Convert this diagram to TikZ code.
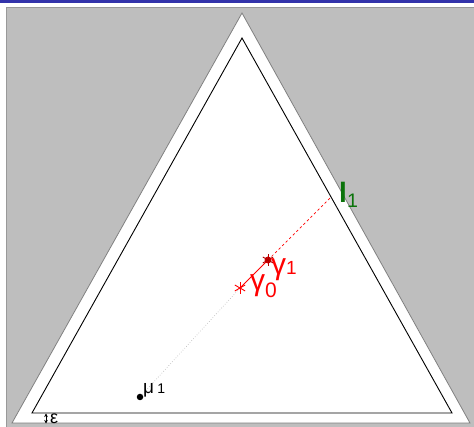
\documentclass[tikz,border=0pt]{standalone}
\usepackage{fontspec}
\setmainfont{Liberation Sans}
\usetikzlibrary{arrows.meta, calc}
\definecolor{barblue}{RGB}{51,51,170}
\definecolor{bggray}{RGB}{190,190,190}
\definecolor{lgreen}{RGB}{10,115,10}
\tikzset{
  outtri/.style = {fill=white, draw=gray, line width=0.8pt, line join=miter},
  intri/.style  = {draw=black, line width=0.9pt, line join=miter},
  mdot/.style   = {circle, fill=black, minimum size=6.5pt, inner sep=0pt},
  astr/.style   = {red, line width=0.9pt},
  glab/.style   = {text=red, inner sep=0pt, anchor=base west, font=\fontsize{30}{30}\selectfont},
  dotln/.style  = {gray!60, dotted, line width=0.6pt},
  segln/.style  = {red, line width=0.8pt},
  dashln/.style = {red, dash pattern=on 2.5pt off 2.5pt, line width=0.7pt},
  eps/.style    = {{Stealth[length=3.5pt,width=3.5pt]}-{Stealth[length=3.5pt,width=3.5pt]}, line width=0.9pt}
}
\newcommand{\astmark}[2]{%
  \foreach \ang in {90,30,150}
    \draw[astr, #2] ($(#1)+(\ang:6)$) -- ($(#1)+(\ang+180:6)$);
}
\begin{document}
\begin{tikzpicture}[x=1pt, y=-1pt]
  \useasboundingbox (0,0) rectangle (474,427);
  %% frame
  \fill[barblue] (0,0) rectangle (474,3.5);
  \fill[bggray, draw=gray!80] (6.5,7.5) rectangle (476,428);

  %% Triangles
  \coordinate (A) at ( 12,423);
  \coordinate (B) at (470,423);
  \coordinate (C) at (242, 13);
  \draw[outtri] (A) -- (B) -- (C) -- cycle;
  \coordinate (a) at ( 32,413);
  \coordinate (b) at (452,413);
  \coordinate (c) at (242, 38);
  \draw[intri] (a) -- (b) -- (c) -- cycle;

  %% Points on the line
  \coordinate (g0) at (240,288);
  \coordinate (g1) at (268,260);
  \coordinate (e1) at ($(c)!0.424!(b)$);
  \node[mdot] (mu) at (140,397) {};
  \draw[dotln] (mu) -- (g0);
  \draw[segln] (g0) -- (g1);
  \draw[dashln] (g1) -- (e1);
  \astmark{g0}{}
  \fill[red!80!black] (g1) circle (3.5pt);
  \astmark{g1}{red!70!black}

  %% Labels
  \node[anchor=base west, inner sep=0pt, font=\fontsize{19}{19}\selectfont] (mul) at (143,394) {μ\,{\fontsize{14}{14}\selectfont 1}};
  \node[glab] (g0l) at (250,291) {γ\textsubscript{0}};
  \node[glab] (g1l) at (271,275) {γ{\fontsize{19}{19}\selectfont 1}};
  \node[anchor=west, inner sep=0pt, text=lgreen, font=\fontsize{28}{28}\bfseries] (l1) at ($(e1)+(8,-2)$) {l\textsubscript{\mdseries 1}};

  %% epsilon gap
  \coordinate (p1) at (46,413.5);
  \coordinate (p2) at (46,423.5);
  \draw[eps] (p1) -- (p2);
  \node[anchor=base west, inner sep=0pt, font=\fontsize{18}{18}\selectfont] (epsl) at (50,423.5) {ε};
\end{tikzpicture}
\end{document}
